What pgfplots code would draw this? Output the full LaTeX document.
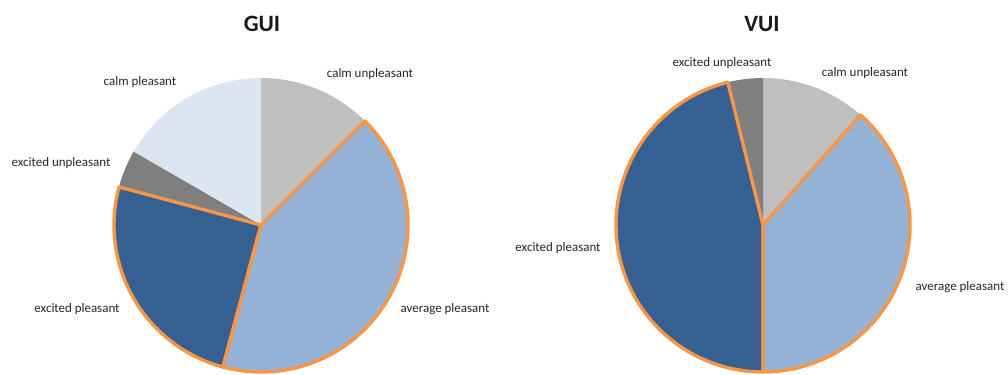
\documentclass[border=0pt]{standalone}
\usepackage{pgfplots}
\pgfplotsset{compat=1.18}
\usepgfplotslibrary{polar}
\usepackage{fontspec}
\setmainfont{Carlito}

\definecolor{calmU}{HTML}{BFBFBF}
\definecolor{avgP}{HTML}{95B3D7}
\definecolor{excP}{HTML}{366092}
\definecolor{excU}{HTML}{7F7F7F}
\definecolor{calmP}{HTML}{DCE6F2}
\definecolor{edge}{HTML}{F79646}
\definecolor{labelc}{HTML}{262626}

% Response counts per mood category, listed clockwise from 12 o'clock
% GUI: calm unpleasant, average pleasant, excited pleasant, excited unpleasant, calm pleasant
\def\guiTotal{24}
\def\guiCalmU{3}
\def\guiAvgP{10}
\def\guiExcP{6}
\def\guiExcU{1}
\def\guiCalmP{4}
% VUI: calm unpleasant, average pleasant, excited pleasant, excited unpleasant
\def\vuiTotal{26}
\def\vuiCalmU{3}
\def\vuiAvgP{10}
\def\vuiExcP{12}
\def\vuiExcU{1}

% #1 style, #2 count before the slice, #3 slice count, #4 total
\newcommand{\pieslice}[4]{%
  \pgfmathsetmacro\sliceA{90-(#2+#3)/#4*360}%
  \pgfmathsetmacro\sliceB{90-#2/#4*360}%
  \addplot[#1, domain=\sliceA:\sliceB, samples=120]
    {1} -- (axis cs:0,0) -- cycle;
}

\pgfplotsset{
  pie/.style={
    hide axis, scale only axis, width=294bp, height=294bp,
    xmin=0, xmax=360, ymin=0, ymax=1, anchor=origin, clip=false,
  },
  plain slice/.style={draw=none, line width=0pt},
  edged slice/.style={draw=edge, line width=3.4bp, line join=round},
}

\begin{document}
\begin{tikzpicture}[x=1bp, y=1bp]
\useasboundingbox (0,0) rectangle (1008,374);

% GUI pie
\begin{polaraxis}[pie, at={(261bp,149bp)}]
  \pgfmathsetmacro\cA{\guiCalmU}
  \pgfmathsetmacro\cB{\guiCalmU+\guiAvgP}
  \pgfmathsetmacro\cC{\guiCalmU+\guiAvgP+\guiExcP}
  \pgfmathsetmacro\cD{\guiCalmU+\guiAvgP+\guiExcP+\guiExcU}
  \pieslice{plain slice, fill=calmU}{0}{\guiCalmU}{\guiTotal}
  \pieslice{plain slice, fill=excU}{\cC}{\guiExcU}{\guiTotal}
  \pieslice{plain slice, fill=calmP}{\cD}{\guiCalmP}{\guiTotal}
  \pieslice{edged slice, fill=excP}{\cB}{\guiExcP}{\guiTotal}
  \pieslice{edged slice, fill=avgP}{\cA}{\guiAvgP}{\guiTotal}
\end{polaraxis}

% VUI pie
\begin{polaraxis}[pie, at={(763bp,149bp)}]
  \pgfmathsetmacro\cA{\vuiCalmU}
  \pgfmathsetmacro\cB{\vuiCalmU+\vuiAvgP}
  \pgfmathsetmacro\cC{\vuiCalmU+\vuiAvgP+\vuiExcP}
  \pieslice{plain slice, fill=calmU}{0}{\vuiCalmU}{\vuiTotal}
  \pieslice{plain slice, fill=excU}{\cC}{\vuiExcU}{\vuiTotal}
  \pieslice{edged slice, fill=excP}{\cB}{\vuiExcP}{\vuiTotal}
  \pieslice{edged slice, fill=avgP}{\cA}{\vuiAvgP}{\vuiTotal}
\end{polaraxis}

% titles
\node[font=\fontsize{23.5}{26}\selectfont\bfseries, text=black!90] at (262,350) {GUI};
\node[font=\fontsize{23.5}{26}\selectfont\bfseries, text=black!90] at (762,350) {VUI};

% category labels
\begin{scope}[every node/.style={font=\fontsize{13}{15}\selectfont, text=labelc}]
  \node at (370,300) {calm unpleasant};
  \node at (140,292) {calm pleasant};
  \node at (61,211) {excited unpleasant};
  \node at (77,65) {excited pleasant};
  \node at (445,65) {average pleasant};

  \node at (722,311) {excited unpleasant};
  \node at (865,301) {calm unpleasant};
  \node at (558,126) {excited pleasant};
  \node at (960,87) {average pleasant};
\end{scope}
\end{tikzpicture}
\end{document}
